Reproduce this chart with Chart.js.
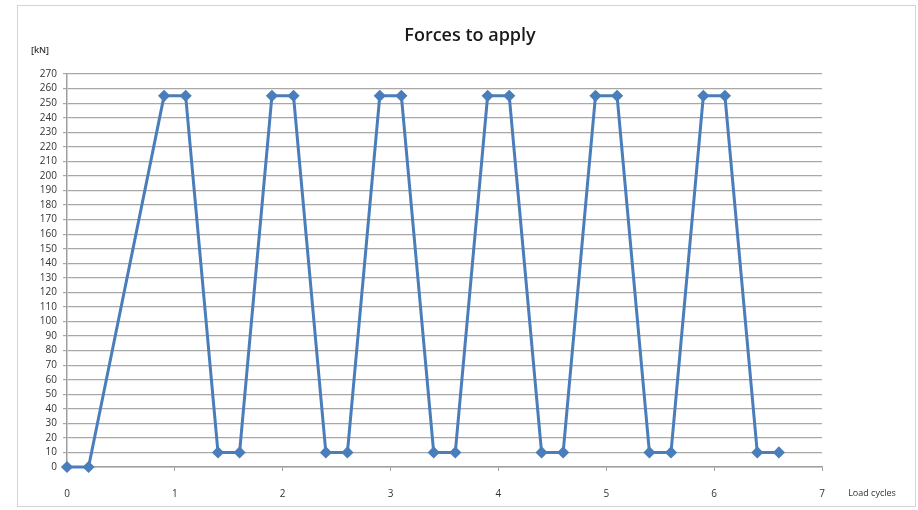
<!DOCTYPE html>
<html>
<head>
<meta charset="utf-8">
<script src="https://cdn.jsdelivr.net/npm/chart.js@4/dist/chart.umd.min.js"></script>
<style>
  html, body { margin: 0; padding: 0; background: #fff; }
  #wrap { width: 918px; height: 510px; position: relative; }
</style>
</head>
<body>
<div id="wrap"><canvas id="forceChart" width="918" height="510"></canvas></div>
<script>
// load cycle positions and force values
const cycles = [0, 0.2, 0.9, 1.1, 1.4, 1.6, 1.9, 2.1, 2.4, 2.6, 2.9, 3.1, 3.4, 3.6, 3.9, 4.1, 4.4, 4.6, 4.9, 5.1, 5.4, 5.6, 5.9, 6.1, 6.4, 6.6];
const forces = [0, 0, 255, 255, 10, 10, 255, 255, 10, 10, 255, 255, 10, 10, 255, 255, 10, 10, 255, 255, 10, 10, 255, 255, 10, 10];
const titleText = 'Forces to apply';
const yUnit = '[kN]';
const xName = 'Load cycles';

const points = cycles.map((c, i) => ({ x: c, y: forces[i] }));

// frame, title and axis names are drawn by hand like the Excel original
const decorations = {
    id: 'decorations',
    beforeDraw(chart) {
        const ctx = chart.ctx;
        ctx.save();
        ctx.strokeStyle = '#d4d4d4';
        ctx.lineWidth = 1;
        ctx.strokeRect(17.5, 5.5, 898, 501);
        ctx.restore();
    },
    afterDraw(chart) {
        const ctx = chart.ctx;
        ctx.save();
        ctx.fillStyle = '#1a1a1a';
        ctx.textAlign = 'center';
        ctx.textBaseline = 'middle';
        ctx.font = '600 18px "Open Sans"';
        ctx.fillText(titleText, 470, 36);
        ctx.fillStyle = '#333';
        ctx.font = '600 9px "Open Sans"';
        ctx.fillText(yUnit, 40, 50);
        ctx.font = '9px "Open Sans"';
        ctx.fillText(xName, 872, 493);
        ctx.restore();
    }
};

const ctx = document.getElementById('forceChart').getContext('2d');
const forceChart = new Chart(ctx, {
    type: 'scatter',
    data: {
        datasets: [{
            label: 'Force',
            data: points,
            showLine: true,
            clip: false,
            borderColor: '#4a7ebb',
            backgroundColor: '#4a7ebb',
            borderWidth: 3,
            pointStyle: 'rectRot',
            pointRadius: 4,
            pointBackgroundColor: '#4a7ebb',
            pointBorderColor: '#4a7ebb',
            tension: 0
        }]
    },
    options: {
        responsive: false,
        animation: false,
        layout: { padding: { left: 0, right: 96, top: 74, bottom: 0 } },
        scales: {
            x: {
                type: 'linear',
                min: 0, max: 7,
                afterFit: s => { s.height = 43; },
                grid: { drawOnChartArea: false, drawTicks: true, tickLength: 4, color: '#a0a0a0' },
                border: { color: '#a0a0a0', width: 1.5 },
                ticks: { stepSize: 1, padding: 17, color: '#333', font: { family: '"Open Sans"', size: 10 } }
            },
            y: {
                min: 0, max: 270,
                afterFit: s => { s.width = 67; },
                grid: { color: '#a8a8a8', lineWidth: 1.2, tickLength: 4 },
                border: { color: '#a0a0a0', width: 1.5 },
                ticks: { stepSize: 10, autoSkip: false, padding: 6, color: '#333', font: { family: '"Open Sans"', size: 10 } }
            }
        },
        plugins: {
            legend: { display: false },
            title: { display: false },
            tooltip: { enabled: false }
        }
    },
    plugins: [decorations]
});
</script>
</body>
</html>
